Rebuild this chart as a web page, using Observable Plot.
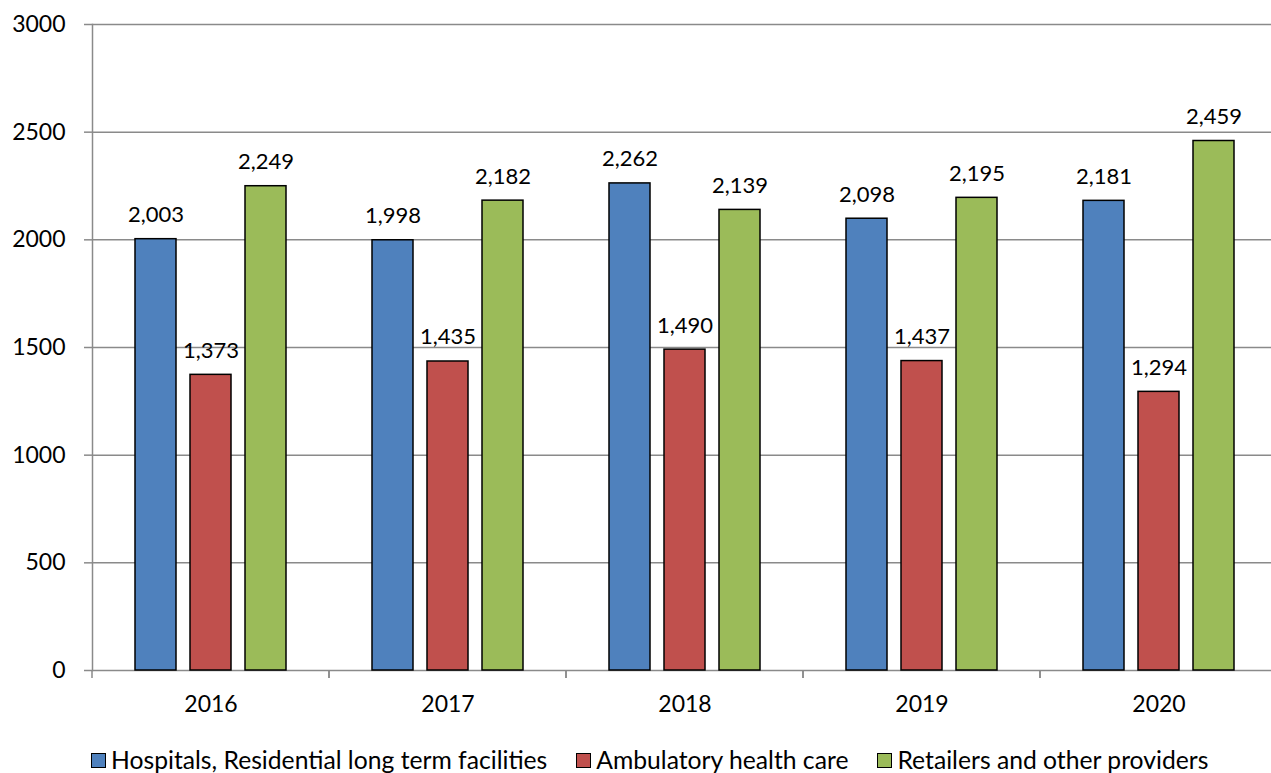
<!DOCTYPE html>
<html>
<head>
<meta charset="utf-8">
<script src="https://cdn.jsdelivr.net/npm/d3@7"></script>
<script src="https://cdn.jsdelivr.net/npm/@observablehq/plot@0.6"></script>
<style>
  body { margin: 0; background: #fff; font-family: Lato, "Open Sans", sans-serif; }
  #wrap { width: 1271px; height: 773px; overflow: hidden; position: relative; }
  #chart svg { max-width: none !important; }
  #legend { position: absolute; top: 744px; left: 91px; display: flex; align-items: center; font-size: 24.7px; line-height: 32px; color: #000; white-space: nowrap; }
  .item { display: flex; align-items: center; margin-right: 29px; }
  .sw { width: 13px; height: 13px; border: 1.5px solid #000; margin-right: 5px; }
</style>
</head>
<body>
<div id="wrap">
  <div id="chart"></div>
  <div id="legend"></div>
</div>
<script>
const years = ["2016", "2017", "2018", "2019", "2020"];
const series = ["Hospitals, Residential long term facilities", "Ambulatory health care", "Retailers and other providers"];
const hospitals = [2003, 1998, 2262, 2098, 2181];
const ambulatory = [1373, 1435, 1490, 1437, 1294];
const retailers = [2249, 2182, 2139, 2195, 2459];
const colors = ["#4F81BD", "#C0504D", "#9BBB59"];
const yTicks = [0, 500, 1000, 1500, 2000, 2500, 3000];

const valuesBySeries = [hospitals, ambulatory, retailers];
const data = [];
years.forEach((yr, i) => {
  series.forEach((s, j) => data.push({year: yr, series: s, value: valuesBySeries[j][i]}));
});

const fmt = d3.format(",");
const axisColor = "#8a8a8a";

const boundaryTicks = (index, scales, values, dimensions) => {
  const {width, height, marginLeft, marginRight, marginBottom} = dimensions;
  const g = d3.create("svg:g").attr("stroke", axisColor).attr("stroke-width", 1.5);
  const y0 = height - marginBottom;
  [marginLeft, width - marginRight].forEach(x => {
    g.append("line").attr("x1", x).attr("x2", x).attr("y1", y0).attr("y2", y0 + 8);
  });
  return g.node();
};

const chart = Plot.plot({
  width: 1278,
  height: 735,
  marginTop: 24,
  marginBottom: 65,
  marginLeft: 90,
  marginRight: 0,
  style: {fontFamily: "Lato, 'Open Sans', sans-serif", fontSize: "22px", color: "#000", background: "#fff", maxWidth: "none"},
  fx: {domain: years, padding: 0, label: null},
  x: {domain: series, paddingInner: 0.25, paddingOuter: 0.75, axis: null},
  y: {domain: [0, 3000], label: null},
  color: {domain: series, range: colors},
  marks: [
    Plot.gridY(yTicks, {stroke: axisColor, strokeOpacity: 1, strokeWidth: 1.5}),
    Plot.frame({anchor: "left", facetAnchor: "left", stroke: axisColor, strokeWidth: 1.5}),
    Plot.axisY(yTicks, {tickSize: 8, tickPadding: 19, stroke: axisColor, strokeWidth: 1.5, fill: "#000", fontSize: 23, label: null, tickFormat: d => String(d)}),
    Plot.axisFx({anchor: "bottom", tickSize: 0, tickPadding: 25, fontSize: 23, label: null, fill: "#000"}),
    boundaryTicks,
    Plot.barY(data, {fx: "year", x: "series", y: "value", fill: "series", stroke: "#000", strokeWidth: 1.5}),
    Plot.text(data, {fx: "year", x: "series", y: "value", text: d => fmt(d.value), lineAnchor: "bottom", dy: -17, fontSize: 22, fill: "#000"})
  ]
});
document.getElementById("chart").appendChild(chart);

const legend = document.getElementById("legend");
series.forEach((s, j) => {
  const item = document.createElement("div");
  item.className = "item";
  const sw = document.createElement("div");
  sw.className = "sw";
  sw.style.background = colors[j];
  const label = document.createElement("span");
  label.textContent = s;
  item.appendChild(sw);
  item.appendChild(label);
  legend.appendChild(item);
});
</script>
</body>
</html>
